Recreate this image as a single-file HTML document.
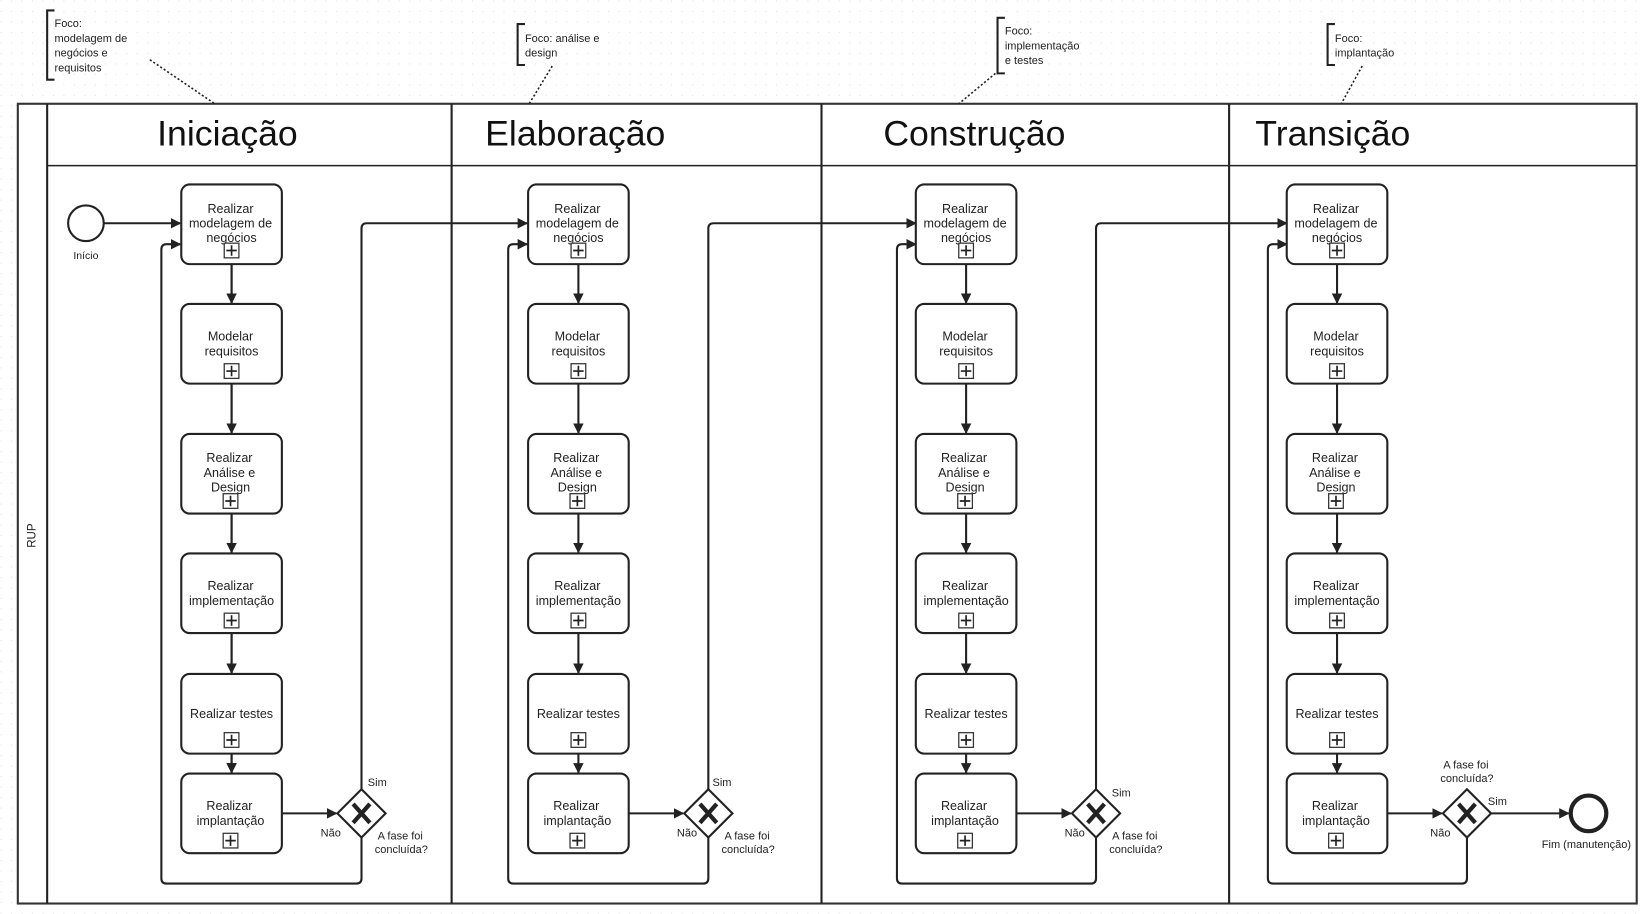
<!DOCTYPE html>
<html><head><meta charset="utf-8"><style>
html,body{margin:0;padding:0;background:#fff;width:1643px;height:914px;overflow:hidden}
svg{display:block}
text{font-family:"Liberation Sans",sans-serif;fill:#222}
.t{font-size:12px;text-anchor:middle}
.s{font-size:10.5px}
.h{font-size:34px;fill:#111}
.b{fill:#fff;stroke:#222;stroke-width:2}
.l{fill:none;stroke:#222;stroke-width:2}
.pm{fill:#fff;stroke:#333;stroke-width:1.2}
</style></head><body>
<svg width="1643" height="914" viewBox="0 0 1568 872" preserveAspectRatio="none" xmlns="http://www.w3.org/2000/svg">
<defs>
<pattern id="dots" width="10" height="10" patternUnits="userSpaceOnUse"><circle cx="1" cy="1" r="0.6" fill="#e2e2e2"/></pattern>
<marker id="a" markerWidth="10" markerHeight="10" refX="9" refY="5" orient="auto" markerUnits="userSpaceOnUse"><path d="M0,0 L10,5 L0,10 z" fill="#222"/></marker>
<g id="plus"><rect x="-7" y="-7" width="14" height="14" class="pm"/><path d="M-5,0H5M0,-5V5" stroke="#222" stroke-width="1.6"/></g>
<g id="gw"><path d="M0,-23 L23,0 L0,23 L-23,0 Z" class="b"/><path d="M-8,-9 L8,9 M8,-9 L-8,9" stroke="#222" stroke-width="4"/></g>
</defs>
<rect width="1568" height="872" fill="url(#dots)"/>
<!-- pool -->
<rect x="17" y="99" width="1545" height="763" fill="#fff" stroke="#333" stroke-width="2"/>
<line x1="45" y1="99" x2="45" y2="862" stroke="#222" stroke-width="2"/>
<line x1="45" y1="158" x2="1562" y2="158" stroke="#222" stroke-width="1.5"/>
<line x1="431" y1="99" x2="431" y2="862" stroke="#222" stroke-width="2"/>
<line x1="784" y1="99" x2="784" y2="862" stroke="#222" stroke-width="2"/>
<line x1="1173" y1="99" x2="1173" y2="862" stroke="#222" stroke-width="2"/>
<text transform="translate(34,511) rotate(-90)" class="t" style="font-size:11px">RUP</text>
<text x="150" y="139" class="h">Iniciação</text>
<text x="463" y="139" class="h">Elaboração</text>
<text x="843" y="139" class="h">Construção</text>
<text x="1198" y="139" class="h">Transição</text>

<!-- annotations -->
<path d="M52,10 H45 V76 H52" class="l"/>
<text class="s" x="52" y="26">Foco:</text><text class="s" x="52" y="40">modelagem de</text><text class="s" x="52" y="54">negócios e</text><text class="s" x="52" y="68">requisitos</text>
<line x1="143" y1="57" x2="205" y2="99" stroke="#222" stroke-width="1.5" stroke-dasharray="2,2"/>
<path d="M501,23 H494 V62 H501" class="l"/>
<text class="s" x="501" y="40">Foco: análise e</text><text class="s" x="501" y="54">design</text>
<line x1="527" y1="63" x2="505" y2="99" stroke="#222" stroke-width="1.5" stroke-dasharray="2,2"/>
<path d="M959,17 H952 V70 H959" class="l"/>
<text class="s" x="959" y="33">Foco:</text><text class="s" x="959" y="47">implementação</text><text class="s" x="959" y="61">e testes</text>
<line x1="950" y1="70" x2="915" y2="99" stroke="#222" stroke-width="1.5" stroke-dasharray="2,2"/>
<path d="M1274,23 H1267 V62 H1274" class="l"/>
<text class="s" x="1274" y="40">Foco:</text><text class="s" x="1274" y="54">implantação</text>
<line x1="1300" y1="63" x2="1280" y2="99" stroke="#222" stroke-width="1.5" stroke-dasharray="2,2"/>

<!-- start -->
<circle cx="82" cy="213" r="17" class="b"/>
<text class="t" x="82" y="247" style="font-size:10px">Início</text>
<line x1="99" y1="213" x2="172" y2="213" class="l" marker-end="url(#a)"/>

<!-- connectors: col1 -->
<path d="M345,799 V838 Q345,843 340,843 H159 Q154,843 154,838 V238 Q154,233 159,233 H172" class="l" marker-end="url(#a)"/>
<path d="M345,753 V218 Q345,213 350,213 H503" class="l" marker-end="url(#a)"/>
<line x1="269" y1="776" x2="321" y2="776" class="l" marker-end="url(#a)"/>
<!-- col2 -->
<path d="M676,799 V838 Q676,843 671,843 H490 Q485,843 485,838 V238 Q485,233 490,233 H503" class="l" marker-end="url(#a)"/>
<path d="M676,753 V218 Q676,213 681,213 H874" class="l" marker-end="url(#a)"/>
<line x1="600" y1="776" x2="652" y2="776" class="l" marker-end="url(#a)"/>
<!-- col3 -->
<path d="M1046,799 V838 Q1046,843 1041,843 H861 Q856,843 856,838 V238 Q856,233 861,233 H874" class="l" marker-end="url(#a)"/>
<path d="M1046,753 V218 Q1046,213 1051,213 H1228" class="l" marker-end="url(#a)"/>
<line x1="970" y1="776" x2="1022" y2="776" class="l" marker-end="url(#a)"/>
<!-- col4 -->
<path d="M1400,799 V838 Q1400,843 1395,843 H1215 Q1210,843 1210,838 V238 Q1210,233 1215,233 H1228" class="l" marker-end="url(#a)"/>
<line x1="1324" y1="776" x2="1376" y2="776" class="l" marker-end="url(#a)"/>
<line x1="1423" y1="776" x2="1497" y2="776" class="l" marker-end="url(#a)"/>
<circle cx="1516" cy="776" r="17" fill="#fff" stroke="#222" stroke-width="4"/>
<text class="t" x="1514" y="809" style="font-size:10.5px">Fim (manutenção)</text>

<!-- vertical task arrows -->
<g class="l" marker-end="url(#a)">
<path d="M221,252V289M221,366V413M221,490V527M221,604V642M221,719V737" class="l" marker-end="url(#a)"/>
</g>
<line x1="221" y1="252" x2="221" y2="289" class="l" marker-end="url(#a)"/>
<line x1="221" y1="366" x2="221" y2="413" class="l" marker-end="url(#a)"/>
<line x1="221" y1="490" x2="221" y2="527" class="l" marker-end="url(#a)"/>
<line x1="221" y1="604" x2="221" y2="642" class="l" marker-end="url(#a)"/>
<line x1="221" y1="719" x2="221" y2="737" class="l" marker-end="url(#a)"/>
<line x1="552" y1="252" x2="552" y2="289" class="l" marker-end="url(#a)"/>
<line x1="552" y1="366" x2="552" y2="413" class="l" marker-end="url(#a)"/>
<line x1="552" y1="490" x2="552" y2="527" class="l" marker-end="url(#a)"/>
<line x1="552" y1="604" x2="552" y2="642" class="l" marker-end="url(#a)"/>
<line x1="552" y1="719" x2="552" y2="737" class="l" marker-end="url(#a)"/>
<line x1="922" y1="252" x2="922" y2="289" class="l" marker-end="url(#a)"/>
<line x1="922" y1="366" x2="922" y2="413" class="l" marker-end="url(#a)"/>
<line x1="922" y1="490" x2="922" y2="527" class="l" marker-end="url(#a)"/>
<line x1="922" y1="604" x2="922" y2="642" class="l" marker-end="url(#a)"/>
<line x1="922" y1="719" x2="922" y2="737" class="l" marker-end="url(#a)"/>
<line x1="1276" y1="252" x2="1276" y2="289" class="l" marker-end="url(#a)"/>
<line x1="1276" y1="366" x2="1276" y2="413" class="l" marker-end="url(#a)"/>
<line x1="1276" y1="490" x2="1276" y2="527" class="l" marker-end="url(#a)"/>
<line x1="1276" y1="604" x2="1276" y2="642" class="l" marker-end="url(#a)"/>
<line x1="1276" y1="719" x2="1276" y2="737" class="l" marker-end="url(#a)"/>

<!-- gateways -->
<use href="#gw" x="345" y="776"/>
<use href="#gw" x="676" y="776"/>
<use href="#gw" x="1046" y="776"/>
<use href="#gw" x="1400" y="776"/>
<g class="s">
<text x="351" y="750">Sim</text><text x="306" y="798">Não</text>
<text x="382" y="801" class="t" style="font-size:10.5px">A fase foi</text><text x="383" y="814" class="t" style="font-size:10.5px">concluída?</text>
<text x="680" y="750">Sim</text><text x="646" y="798">Não</text>
<text x="713" y="801" class="t" style="font-size:10.5px">A fase foi</text><text x="714" y="814" class="t" style="font-size:10.5px">concluída?</text>
<text x="1061" y="760">Sim</text><text x="1016" y="798">Não</text>
<text x="1083" y="801" class="t" style="font-size:10.5px">A fase foi</text><text x="1084" y="814" class="t" style="font-size:10.5px">concluída?</text>
<text x="1420" y="768">Sim</text><text x="1365" y="798">Não</text>
<text x="1399" y="733" class="t" style="font-size:10.5px">A fase foi</text><text x="1400" y="746" class="t" style="font-size:10.5px">concluída?</text>
</g>

<!-- column 1 tasks -->
<g>
<rect x="173" y="176" width="96" height="76" rx="8" class="b"/>
<text class="t" x="220" y="203">Realizar</text><text class="t" x="220" y="217">modelagem de</text><text class="t" x="221" y="231">negócios</text>
<use href="#plus" x="221" y="239"/>
<rect x="173" y="290" width="96" height="76" rx="8" class="b"/>
<text class="t" x="220" y="325">Modelar</text><text class="t" x="221" y="339">requisitos</text>
<use href="#plus" x="221" y="354"/>
<rect x="173" y="414" width="96" height="76" rx="8" class="b"/>
<text class="t" x="219" y="441">Realizar</text><text class="t" x="219" y="455">Análise e</text><text class="t" x="220" y="469">Design</text>
<use href="#plus" x="220" y="478"/>
<rect x="173" y="528" width="96" height="76" rx="8" class="b"/>
<text class="t" x="220" y="563">Realizar</text><text class="t" x="221" y="577">implementação</text>
<use href="#plus" x="221" y="592"/>
<rect x="173" y="643" width="96" height="76" rx="8" class="b"/>
<text class="t" x="221" y="685">Realizar testes</text>
<use href="#plus" x="221" y="706"/>
<rect x="173" y="738" width="96" height="76" rx="8" class="b"/>
<text class="t" x="219" y="773">Realizar</text><text class="t" x="220" y="787">implantação</text>
<use href="#plus" x="220" y="802"/>
</g>
<!-- column 2 -->
<g transform="translate(331,0)">
<rect x="173" y="176" width="96" height="76" rx="8" class="b"/>
<text class="t" x="220" y="203">Realizar</text><text class="t" x="220" y="217">modelagem de</text><text class="t" x="221" y="231">negócios</text>
<use href="#plus" x="221" y="239"/>
<rect x="173" y="290" width="96" height="76" rx="8" class="b"/>
<text class="t" x="220" y="325">Modelar</text><text class="t" x="221" y="339">requisitos</text>
<use href="#plus" x="221" y="354"/>
<rect x="173" y="414" width="96" height="76" rx="8" class="b"/>
<text class="t" x="219" y="441">Realizar</text><text class="t" x="219" y="455">Análise e</text><text class="t" x="220" y="469">Design</text>
<use href="#plus" x="220" y="478"/>
<rect x="173" y="528" width="96" height="76" rx="8" class="b"/>
<text class="t" x="220" y="563">Realizar</text><text class="t" x="221" y="577">implementação</text>
<use href="#plus" x="221" y="592"/>
<rect x="173" y="643" width="96" height="76" rx="8" class="b"/>
<text class="t" x="221" y="685">Realizar testes</text>
<use href="#plus" x="221" y="706"/>
<rect x="173" y="738" width="96" height="76" rx="8" class="b"/>
<text class="t" x="219" y="773">Realizar</text><text class="t" x="220" y="787">implantação</text>
<use href="#plus" x="220" y="802"/>
</g>
<!-- column 3 -->
<g transform="translate(701,0)">
<rect x="173" y="176" width="96" height="76" rx="8" class="b"/>
<text class="t" x="220" y="203">Realizar</text><text class="t" x="220" y="217">modelagem de</text><text class="t" x="221" y="231">negócios</text>
<use href="#plus" x="221" y="239"/>
<rect x="173" y="290" width="96" height="76" rx="8" class="b"/>
<text class="t" x="220" y="325">Modelar</text><text class="t" x="221" y="339">requisitos</text>
<use href="#plus" x="221" y="354"/>
<rect x="173" y="414" width="96" height="76" rx="8" class="b"/>
<text class="t" x="219" y="441">Realizar</text><text class="t" x="219" y="455">Análise e</text><text class="t" x="220" y="469">Design</text>
<use href="#plus" x="220" y="478"/>
<rect x="173" y="528" width="96" height="76" rx="8" class="b"/>
<text class="t" x="220" y="563">Realizar</text><text class="t" x="221" y="577">implementação</text>
<use href="#plus" x="221" y="592"/>
<rect x="173" y="643" width="96" height="76" rx="8" class="b"/>
<text class="t" x="221" y="685">Realizar testes</text>
<use href="#plus" x="221" y="706"/>
<rect x="173" y="738" width="96" height="76" rx="8" class="b"/>
<text class="t" x="219" y="773">Realizar</text><text class="t" x="220" y="787">implantação</text>
<use href="#plus" x="220" y="802"/>
</g>
<!-- column 4 -->
<g transform="translate(1055,0)">
<rect x="173" y="176" width="96" height="76" rx="8" class="b"/>
<text class="t" x="220" y="203">Realizar</text><text class="t" x="220" y="217">modelagem de</text><text class="t" x="221" y="231">negócios</text>
<use href="#plus" x="221" y="239"/>
<rect x="173" y="290" width="96" height="76" rx="8" class="b"/>
<text class="t" x="220" y="325">Modelar</text><text class="t" x="221" y="339">requisitos</text>
<use href="#plus" x="221" y="354"/>
<rect x="173" y="414" width="96" height="76" rx="8" class="b"/>
<text class="t" x="219" y="441">Realizar</text><text class="t" x="219" y="455">Análise e</text><text class="t" x="220" y="469">Design</text>
<use href="#plus" x="220" y="478"/>
<rect x="173" y="528" width="96" height="76" rx="8" class="b"/>
<text class="t" x="220" y="563">Realizar</text><text class="t" x="221" y="577">implementação</text>
<use href="#plus" x="221" y="592"/>
<rect x="173" y="643" width="96" height="76" rx="8" class="b"/>
<text class="t" x="221" y="685">Realizar testes</text>
<use href="#plus" x="221" y="706"/>
<rect x="173" y="738" width="96" height="76" rx="8" class="b"/>
<text class="t" x="219" y="773">Realizar</text><text class="t" x="220" y="787">implantação</text>
<use href="#plus" x="220" y="802"/>
</g>
</svg>
</body></html>
